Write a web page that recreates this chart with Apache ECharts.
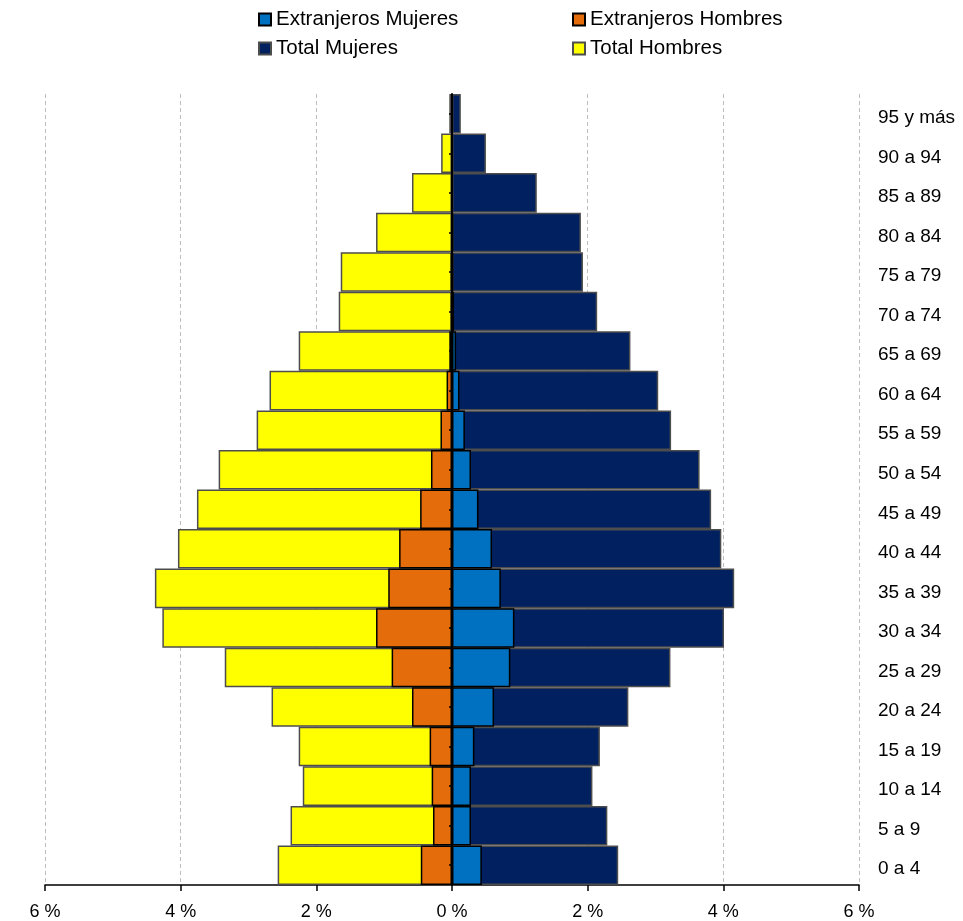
<!DOCTYPE html>
<html>
<head>
<meta charset="utf-8">
<script src="https://cdn.jsdelivr.net/npm/echarts@6/dist/echarts.min.js"></script>
<style>
  html, body { margin: 0; padding: 0; background: #fff; }
  #chart { width: 963px; height: 921px; }
</style>
</head>
<body>
<div id="chart"></div>
<script>
// grupos de edad (de abajo hacia arriba)
const ages = ['0 a 4', '5 a 9', '10 a 14', '15 a 19', '20 a 24', '25 a 29', '30 a 34',
  '35 a 39', '40 a 44', '45 a 49', '50 a 54', '55 a 59', '60 a 64', '65 a 69',
  '70 a 74', '75 a 79', '80 a 84', '85 a 89', '90 a 94', '95 y más'];

// % de población (hombres se dibujan a la izquierda)
const totalHombres = [2.57, 2.38, 2.20, 2.26, 2.66, 3.35, 4.27, 4.38, 4.04, 3.76,
  3.44, 2.88, 2.69, 2.26, 1.67, 1.64, 1.12, 0.59, 0.16, 0.04];
const totalMujeres = [2.45, 2.29, 2.07, 2.18, 2.60, 3.22, 4.01, 4.16, 3.97, 3.82,
  3.65, 3.23, 3.04, 2.63, 2.14, 1.93, 1.90, 1.25, 0.50, 0.13];
const extHombres = [0.46, 0.28, 0.30, 0.33, 0.59, 0.89, 1.12, 0.94, 0.78, 0.47,
  0.31, 0.17, 0.08, 0.04, 0.02, 0.02, 0.01, 0.01, 0.01, 0.01];
const extMujeres = [0.44, 0.28, 0.28, 0.33, 0.62, 0.86, 0.92, 0.72, 0.59, 0.39,
  0.28, 0.19, 0.11, 0.06, 0.03, 0.02, 0.02, 0.01, 0.01, 0.01];

const xTicks = [-6, -4, -2, 0, 2, 4, 6];

const font = 'Liberation Sans, Arial, sans-serif';
const chart = echarts.init(document.getElementById('chart'));

const barBase = { type: 'bar', barGap: '-100%', barCategoryGap: 0, yAxisIndex: 0 };
const legendBase = {
  top: 4, orient: 'vertical', itemGap: 8,
  icon: 'rect', itemWidth: 12, itemHeight: 12,
  textStyle: { fontSize: 20.5, color: '#000' },
};

chart.setOption({
  animation: false,
  textStyle: { fontFamily: font },
  legend: [
    { ...legendBase, left: 253, data: ['Extranjeros Mujeres', 'Total Mujeres'] },
    { ...legendBase, left: 567, data: ['Extranjeros Hombres', 'Total Hombres'] },
  ],
  grid: { left: 45, right: 104, top: 94, bottom: 35 },
  xAxis: {
    type: 'value',
    min: xTicks[0],
    max: xTicks[xTicks.length - 1],
    interval: 2,
    axisLine: { show: true, onZero: false, lineStyle: { color: '#000', width: 1.5 } },
    axisTick: { show: true, length: 6, lineStyle: { color: '#000', width: 1.5 } },
    axisLabel: {
      fontSize: 18, color: '#000', margin: 18,
      formatter: v => Math.abs(v) + ' %',
    },
    splitLine: { show: true, lineStyle: { type: [4, 3], color: '#bdbdbd', width: 1 } },
  },
  yAxis: [
    {
      type: 'category',
      data: ages,
      position: 'right',
      axisLine: { show: false, onZero: false },
      axisTick: { show: false },
      axisLabel: { fontSize: 19, color: '#000', margin: 19, verticalAlign: 'top', lineHeight: 8 },
    },
    {
      type: 'category',
      data: ages,
      position: 'left',
      z: 10,
      axisLine: { show: true, onZero: true, lineStyle: { color: '#000', width: 2 } },
      axisTick: { show: true, alignWithLabel: true, length: 3, lineStyle: { color: '#000', width: 1.5 } },
      axisLabel: { show: false },
    },
  ],
  series: [
    {
      ...barBase,
      name: 'Total Hombres',
      data: totalHombres.map(v => -v),
      itemStyle: { color: '#ffff00', borderColor: '#4d4d4d', borderWidth: 1.5 },
    },
    {
      ...barBase,
      name: 'Total Mujeres',
      data: totalMujeres,
      itemStyle: { color: '#002060', borderColor: '#4d4d4d', borderWidth: 1.5 },
    },
    {
      ...barBase,
      name: 'Extranjeros Hombres',
      data: extHombres.map(v => -v),
      itemStyle: { color: '#e46c0a', borderColor: '#000', borderWidth: 1.5 },
    },
    {
      ...barBase,
      name: 'Extranjeros Mujeres',
      data: extMujeres,
      itemStyle: { color: '#0070c0', borderColor: '#000', borderWidth: 1.5 },
    },
  ],
});
</script>
</body>
</html>
